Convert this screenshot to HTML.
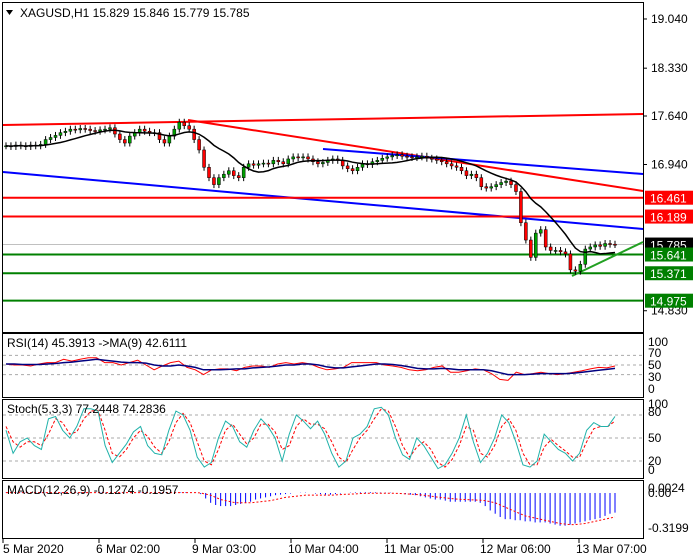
<!DOCTYPE html>
<html><head><meta charset="utf-8"><style>
body{margin:0;background:#fff;}
svg{display:block;font-family:"Liberation Sans",sans-serif;}
</style></head><body>
<svg id="c" width="700" height="560" xmlns="http://www.w3.org/2000/svg">
<rect x="0" y="0" width="700" height="560" fill="#fff"/>
</svg>
<script>
const closes=[17.21,17.20,17.22,17.21,17.20,17.22,17.21,17.23,17.30,17.33,17.36,17.40,17.42,17.45,17.44,17.46,17.45,17.43,17.42,17.44,17.45,17.47,17.38,17.30,17.25,17.35,17.40,17.45,17.42,17.40,17.40,17.30,17.25,17.35,17.45,17.55,17.50,17.45,17.30,17.15,16.90,16.75,16.65,16.75,16.80,16.85,16.78,16.75,16.90,16.95,16.93,16.95,16.96,16.95,17.00,16.98,16.95,17.02,17.05,17.04,17.05,17.02,16.98,16.95,16.97,17.00,17.02,17.00,16.92,16.88,16.85,16.90,16.95,16.94,16.98,17.00,17.03,17.05,17.07,17.08,17.06,17.05,17.04,17.05,17.06,17.03,17.02,17.00,16.98,16.95,16.92,16.90,16.85,16.78,16.80,16.75,16.62,16.60,16.62,16.65,16.68,16.70,16.65,16.55,16.10,15.85,15.60,15.95,16.00,15.75,15.70,15.70,15.68,15.65,15.42,15.40,15.50,15.72,15.75,15.78,15.76,15.80,15.79,15.785];
const priceTicks=["19.040","18.330","17.640","16.940","14.830"];
const priceTickVals=[19.04,18.33,17.64,16.94,14.83];
const levelsRed=[16.461,16.189];
const levelsGreen=[15.641,15.371,14.975];
const rsiVals=[52,50,50,48,52,55,55,62,58,62,65,65,55,55,50,55,60,50,40,48,55,58,45,40,30,40,42,42,38,45,48,48,45,52,55,52,55,52,45,40,42,45,55,55,55,55,50,48,45,40,38,40,45,48,35,35,38,42,40,32,20,18,35,30,32,35,32,30,32,35,38,42,45,44,48];
const rsiMa=[52,52,51,51,51,52,53,55,56,58,60,62,60,58,56,55,55,54,50,48,48,50,48,45,40,40,40,41,42,42,44,45,46,48,50,50,52,52,50,46,44,44,46,48,50,52,52,51,49,46,43,42,42,43,42,40,40,40,40,38,34,30,30,30,31,32,32,32,32,33,35,37,39,41,43];
const stochK=[60,30,45,50,40,35,75,78,60,50,65,88,88,85,40,18,30,42,58,65,40,30,28,60,85,80,60,25,12,18,50,72,65,45,38,60,75,65,50,20,55,80,72,62,72,55,30,12,20,50,55,65,88,90,80,50,28,22,50,40,25,10,15,30,50,80,45,18,30,50,80,70,45,15,12,20,55,45,35,30,20,30,60,70,65,65,78];
const stochD=[65,45,38,45,45,40,55,75,70,55,58,75,85,86,60,30,25,35,50,60,52,38,30,45,70,82,70,45,20,15,35,60,68,55,42,50,68,68,58,35,40,65,75,68,68,62,45,25,18,35,50,60,75,88,85,65,40,25,38,45,35,18,12,22,40,65,60,30,25,40,65,75,60,30,15,15,38,48,40,33,25,25,45,62,65,65,72];
const macdHist=[0.004,0.004,0.004,0.003,0.004,0.004,0.003,0.004,0.004,0.004,0.004,0.005,0.004,0.004,0.004,0.004,0.004,0.003,0.003,0.004,0.004,0.004,0.003,0.002,0.001,0.002,0.003,0.004,0.004,0.004,0.004,0.003,0.002,0.003,0.004,0.005,0.005,0.004,0.002,-0.01,-0.05,-0.09,-0.11,-0.12,-0.12,-0.12,-0.11,-0.10,-0.09,-0.08,-0.06,-0.05,-0.04,-0.03,-0.02,-0.015,-0.01,-0.005,0.0,0.002,0.003,0.0,-0.005,-0.01,-0.015,-0.015,-0.01,-0.005,0.0,0.003,0.005,0.006,0.007,0.007,0.006,0.005,0.004,0.003,0.0,-0.005,-0.01,-0.015,-0.02,-0.03,-0.04,-0.05,-0.06,-0.06,-0.07,-0.08,-0.08,-0.08,-0.08,-0.08,-0.08,-0.09,-0.12,-0.16,-0.19,-0.22,-0.24,-0.24,-0.25,-0.25,-0.26,-0.26,-0.27,-0.27,-0.27,-0.28,-0.29,-0.30,-0.30,-0.29,-0.28,-0.27,-0.26,-0.25,-0.24,-0.23,-0.21,-0.19,-0.18];
const macdSignal=[0.004,0.004,0.004,0.004,0.004,0.004,0.004,0.004,0.004,0.004,0.004,0.004,0.004,0.004,0.004,0.004,0.004,0.004,0.004,0.004,0.004,0.004,0.004,0.004,0.003,0.003,0.003,0.003,0.003,0.003,0.003,0.003,0.003,0.003,0.003,0.003,0.004,0.004,0.004,0.0,-0.01,-0.02,-0.04,-0.06,-0.07,-0.08,-0.09,-0.09,-0.09,-0.09,-0.085,-0.08,-0.075,-0.07,-0.06,-0.05,-0.04,-0.035,-0.03,-0.025,-0.02,-0.02,-0.02,-0.02,-0.02,-0.02,-0.018,-0.015,-0.012,-0.01,-0.008,-0.005,-0.003,-0.002,-0.002,-0.002,-0.002,-0.002,-0.003,-0.005,-0.008,-0.01,-0.013,-0.017,-0.022,-0.028,-0.035,-0.04,-0.045,-0.05,-0.055,-0.058,-0.06,-0.062,-0.064,-0.066,-0.07,-0.08,-0.09,-0.11,-0.13,-0.15,-0.17,-0.19,-0.21,-0.22,-0.23,-0.24,-0.25,-0.26,-0.27,-0.28,-0.285,-0.29,-0.29,-0.285,-0.28,-0.27,-0.26,-0.25,-0.24,-0.23,-0.22];
const xLabels=["5 Mar 2020","6 Mar 02:00","9 Mar 03:00","10 Mar 04:00","11 Mar 05:00","12 Mar 06:00","13 Mar 07:00"];

const svg=document.getElementById('c');
const NS="http://www.w3.org/2000/svg";
function mk(tag,at,parent){const e=document.createElementNS(NS,tag);for(const k in at)e.setAttribute(k,at[k]);(parent||svg).appendChild(e);return e;}
const X0=6,X1=615;
const xi=(i,n)=>X0+i*(X1-X0)/(n-1);
const yP=p=>116+(17.64-p)*69.3;
const yR=v=>389-0.48*v;
const yS=v=>476.3-0.767*v;
const yM=v=>493-v*109;

[[2,2,330],[2,333,64],[2,399,79],[2,480,58]].forEach((f,k)=>{
 const r=mk('rect',{x:2.5,y:f[1]+0.5,width:641,height:f[2],fill:'none',stroke:'#000','stroke-width':1});
 
 
});
const t=mk('text',{x:20,y:17,'font-size':12,fill:'#000'});t.textContent="XAGUSD,H1  15.829 15.846 15.779 15.785";

const tri=mk('path',{d:'M6 10 L13 10 L9.5 15 Z',fill:'#000'});


priceTickVals.forEach((v,i)=>{const y=yP(v);mk('line',{x1:643,x2:647,y1:y,y2:y,stroke:'#000'});
 const tx=mk('text',{x:651,y:y+4,'font-size':12,fill:'#000'});tx.textContent=priceTicks[i];
 });

function tl(x1,y1,x2,y2,c,name,w){const l=mk('line',{x1,y1,x2,y2,stroke:c,'stroke-width':w||2});}
tl(3,125,643,114,'#f00','resistance-trendline-top');
tl(188,120,643,191,'#f00','descending-red-trendline');
tl(323,149,643,174,'#00f','upper-blue-channel');
tl(3,172,643,229,'#00f','lower-blue-channel');
tl(3,yP(15.785),643,yP(15.785),'#c0c0c0','bid-line',1);
levelsRed.forEach(v=>tl(3,yP(v),643,yP(v),'#f00','resistance-level'));
levelsGreen.forEach(v=>tl(3,yP(v),643,yP(v),'#008000','support-level'));
tl(572,276,643,242,'#22a022','support-trendline');

const n=closes.length;
for(let i=0;i<n;i++){
 const c=closes[i],o=i?closes[i-1]:c,x=xi(i,n);
 const hi=Math.max(o,c)+0.05,lo=Math.min(o,c)-0.05;
 const w=mk('line',{x1:x,x2:x,y1:yP(hi),y2:yP(lo),stroke:'#000'});
 
 const y1=yP(Math.max(o,c)),h=Math.max(1,yP(Math.min(o,c))-y1);
 const b=mk('rect',{x:x-1.5,y:y1,width:3,height:h,fill:c>=o?'#00a000':'#f00',stroke:'#000','stroke-width':0.5});
 
}
let pts=[];for(let i=0;i<n;i++){const s=Math.max(0,i-11);let a=0;for(let j=s;j<=i;j++)a+=closes[j];pts.push(xi(i,n)+','+yP(a/(i-s+1)));}
const ma=mk('polyline',{points:pts.join(' '),fill:'none',stroke:'#000','stroke-width':1.5});


function lab(v,bg,fg){const y=yP(v);const r=mk('rect',{x:645,y:y-7,width:48,height:14,fill:bg});
 
 const tx=mk('text',{x:650,y:y+5,'font-size':12,fill:fg});tx.textContent=v.toFixed(3);
 }
levelsRed.forEach(v=>lab(v,'#f00','#fff'));
lab(15.785,'#000','#fff');
levelsGreen.forEach(v=>lab(v,'#008000','#fff'));

function grid(vals,yf,labels,ly){vals.forEach(v=>{const g=mk('line',{x1:3,x2:643,y1:yf(v),y2:yf(v),stroke:'#aaa','stroke-dasharray':'3,3'});});
 labels.forEach((s,i)=>{const tx=mk('text',{x:648,y:ly[i],'font-size':12,fill:'#000'});tx.textContent=s;});}
grid([70,50,30],yR,["100","70","50","30","0"],[346,357,369,381,393]);
grid([80,50,20],yS,["100","80","50","20","0"],[408,416,442,465,474]);
function line(arr,yf,col,name,dash,w){const m=arr.length;const p=arr.map((v,i)=>xi(i,m)+','+yf(v)).join(' ');
 const l=mk('polyline',{points:p,fill:'none',stroke:col,'stroke-width':w||1});if(dash)l.setAttribute('stroke-dasharray',dash);
 }
line(rsiVals,yR,'#f00','rsi-line');
line(rsiMa,yR,'#000080','rsi-ma-line',null,1.5);
line(stochD,yS,'#f00','stoch-signal-line','3,2');
line(stochK,yS,'#20b2aa','stoch-main-line');
const m=macdHist.length;
macdHist.forEach((v,i)=>{const x=xi(i,m);const b=mk('line',{x1:x,x2:x,y1:yM(0),y2:yM(v),stroke:'#0000ff','stroke-width':1});});
line(macdSignal,yM,'#f00','macd-signal-line','2,2');
[["0.0024",492],["0.00",497],["-0.3199",532]].forEach(a=>{const tx=mk('text',{x:648,y:a[1],'font-size':12,fill:'#000'});tx.textContent=a[0];});
[["RSI(14) 45.3913  ->MA(9) 42.6111",7,347],["Stoch(5,3,3) 77.2448 74.2836",7,413],["MACD(12,26,9) -0.1274 -0.1957",7,494]].forEach(a=>{const tx=mk('text',{x:a[1],y:a[2],'font-size':12,fill:'#000'});tx.textContent=a[0];});

xLabels.forEach((s,i)=>{const x=3+i*96;mk('line',{x1:x,x2:x,y1:538,y2:543,stroke:'#000'});
 const tx=mk('text',{x:x+(i?-3:0),y:553,'font-size':12,fill:'#000'});tx.textContent=s;});
</script>
</body></html>
